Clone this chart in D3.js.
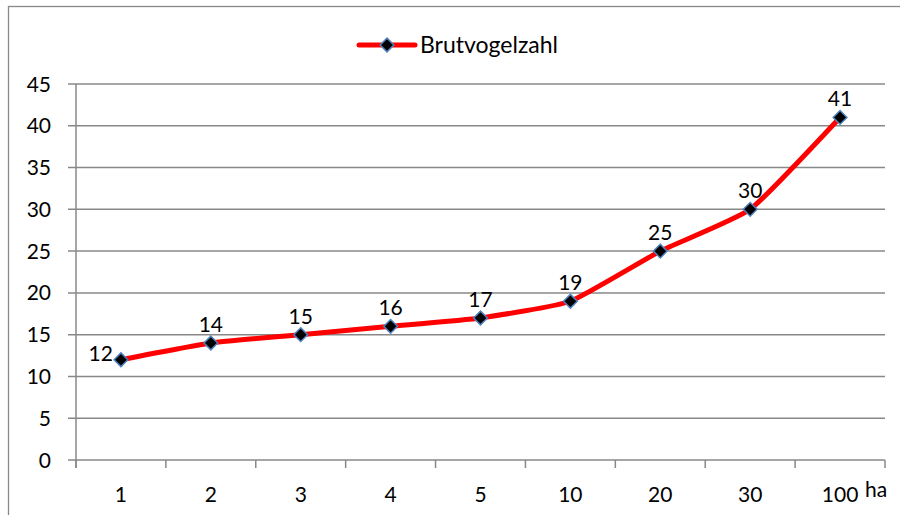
<!DOCTYPE html>
<html>
<head>
<meta charset="utf-8">
<script src="https://cdn.jsdelivr.net/npm/d3@7"></script>
<style>
  body { margin: 0; background: #fff; }
  svg { display: block; font-family: Lato, "Liberation Sans", sans-serif; }
</style>
</head>
<body>
<div id="chart"></div>
<script>
var categories = ["1", "2", "3", "4", "5", "10", "20", "30", "100"];
var values = [12, 14, 15, 16, 17, 19, 25, 30, 41];
var yTicks = [0, 5, 10, 15, 20, 25, 30, 35, 40, 45];
var seriesName = "Brutvogelzahl";
var unitLabel = "ha";

var W = 900, H = 515;
var margin = {top: 84, left: 76, right: 15, bottom: 55},
    width  = W - margin.left - margin.right,
    height = H - margin.top - margin.bottom;

var svg = d3.select("#chart").append("svg")
    .attr("width", W).attr("height", H);

// chart frame
svg.append("rect")
    .attr("x", 8.5).attr("y", 6.5)
    .attr("width", W + 20).attr("height", H + 20)
    .attr("fill", "none").attr("stroke", "#888").attr("stroke-width", 1.3);

var x = d3.scaleBand().domain(categories).range([0, width]);
var y = d3.scaleLinear().domain([0, 45]).range([height, 0]);

var g = svg.append("g").attr("transform", "translate(" + margin.left + "," + margin.top + ")");

// gridlines
g.append("g").selectAll("line").data(yTicks).join("line")
    .attr("x1", -8).attr("x2", width)
    .attr("y1", d => y(d)).attr("y2", d => y(d))
    .attr("stroke", "#888").attr("stroke-width", 1.5);

// y axis line
g.append("line")
    .attr("x1", 0).attr("x2", 0).attr("y1", 0).attr("y2", height + 8)
    .attr("stroke", "#888").attr("stroke-width", 1.5);

// x axis tick marks
var bounds = categories.map(c => x(c)).concat([width]);
g.append("g").selectAll("line").data(bounds).join("line")
    .attr("x1", d => d).attr("x2", d => d)
    .attr("y1", height).attr("y2", height + 8)
    .attr("stroke", "#888").attr("stroke-width", 1.5);

// y labels
g.append("g").selectAll("text").data(yTicks).join("text")
    .attr("x", -25).attr("y", d => y(d) + 7.5)
    .attr("text-anchor", "end")
    .attr("font-size", 21)
    .text(d => d);

// x labels
g.append("g").selectAll("text").data(categories).join("text")
    .attr("x", d => x(d) + x.bandwidth() / 2).attr("y", height + 42)
    .attr("text-anchor", "middle")
    .attr("font-size", 21)
    .text(d => d);

g.append("text")
    .attr("x", width - 20).attr("y", height + 37)
    .attr("font-size", 21)
    .text(unitLabel);

var pts = categories.map((c, i) => [x(c) + x.bandwidth() / 2, y(values[i])]);

var line = d3.line().curve(d3.curveCardinal.tension(0.55));
g.append("path")
    .attr("d", line(pts))
    .attr("fill", "none").attr("stroke", "#ff0000")
    .attr("stroke-width", 5).attr("stroke-linejoin", "round").attr("stroke-linecap", "round");

var diamond = d3.symbol().type(d3.symbolDiamond2).size(120);
g.append("g").selectAll("path").data(pts).join("path")
    .attr("transform", d => "translate(" + d[0] + "," + d[1] + ")")
    .attr("d", diamond)
    .attr("fill", "#000").attr("stroke", "#4f81bd").attr("stroke-width", 1.5);

// data labels
g.append("g").selectAll("text").data(values).join("text")
    .attr("x", (d, i) => i === 0 ? pts[i][0] - 8 : pts[i][0])
    .attr("y", (d, i) => i === 0 ? pts[i][1] + 1 : pts[i][1] - 11)
    .attr("text-anchor", (d, i) => i === 0 ? "end" : "middle")
    .attr("font-size", 21)
    .text(d => d);

// legend
var lg = svg.append("g").attr("transform", "translate(359,45)");
lg.append("line").attr("x1", 0).attr("x2", 56)
    .attr("stroke", "#ff0000").attr("stroke-width", 5).attr("stroke-linecap", "round");
lg.append("path").attr("transform", "translate(28,0)").attr("d", diamond)
    .attr("fill", "#000").attr("stroke", "#4f81bd").attr("stroke-width", 1.5);
lg.append("text").attr("x", 61).attr("y", 8)
    .attr("font-size", 23).text(seriesName);
</script>
</body>
</html>
